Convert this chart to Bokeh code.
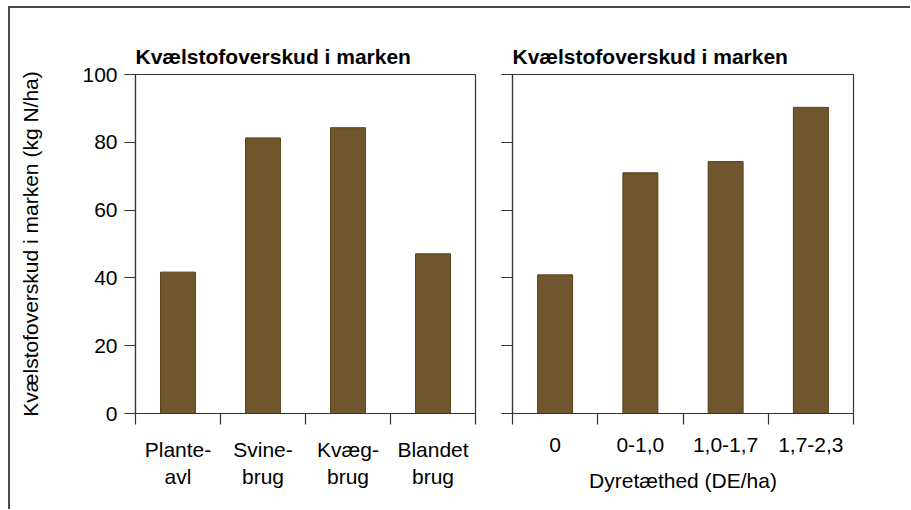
from bokeh.plotting import figure
from bokeh.models import Range1d, FixedTicker
from bokeh.layouts import row
from bokeh.embed import file_html
from bokeh.resources import INLINE

# ---- data ----
left_categories = ["Plante-\navl", "Svine-\nbrug", "Kvæg-\nbrug", "Blandet\nbrug"]
left_values = [41.7, 81.3, 84.3, 47.1]
right_categories = ["0", "0-1,0", "1,0-1,7", "1,7-2,3"]
right_values = [40.9, 71.0, 74.3, 90.3]
y_ticks = [0, 20, 40, 60, 80, 100]
panel_title = "Kvælstofoverskud i marken"
y_axis_label = "Kvælstofoverskud i marken (kg N/ha)"
right_x_label = "Dyretæthed (DE/ha)"

FONT = "Liberation Sans"
FS = "21px"
LINE = "#333333"
BAR_FILL = "#70562f"
BAR_LINE = "#5a3d12"


def panel(categories, values, show_y_labels, x_label, mbl, mbr, fw):
    n = len(categories)
    centers = [i + 0.5 for i in range(n)]
    bounds = list(range(n + 1))
    p = figure(frame_width=fw, frame_height=339,
               x_range=Range1d(0, n), y_range=Range1d(0, 100),
               output_backend="svg", toolbar_location=None,
               min_border_left=mbl, min_border_right=mbr,
               min_border_top=66, min_border_bottom=96,
               background_fill_color="white", border_fill_color="white")
    p.vbar(x=centers, top=values, width=0.41, bottom=0,
           fill_color=BAR_FILL, line_color=BAR_LINE, line_width=1)
    p.xgrid.visible = False
    p.ygrid.visible = False
    p.outline_line_color = LINE
    p.outline_line_width = 1.2
    p.outline_line_alpha = 1

    p.title.text = panel_title
    p.title.text_font = FONT
    p.title.text_font_size = FS
    p.title.text_font_style = "bold"
    p.title.text_color = "black"
    p.title.align = "left"
    p.title.standoff = 14

    xa = p.xaxis[0]
    xa.ticker = FixedTicker(ticks=centers, minor_ticks=bounds)
    xa.major_label_overrides = {c: lab for c, lab in zip(centers, categories)}
    xa.major_tick_out = 0
    xa.major_tick_in = 0
    xa.minor_tick_out = 11
    xa.minor_tick_in = 0
    xa.minor_tick_line_color = LINE
    xa.minor_tick_line_width = 1.2
    xa.axis_line_color = LINE
    xa.axis_line_width = 1.2
    xa.major_label_standoff = 13
    xa.major_label_text_font = FONT
    xa.major_label_text_font_size = FS
    xa.major_label_text_color = "black"
    if x_label:
        xa.axis_label = x_label
        xa.axis_label_text_font = FONT
        xa.axis_label_text_font_size = FS
        xa.axis_label_text_font_style = "normal"
        xa.axis_label_text_color = "black"
        xa.axis_label_standoff = 14

    ya = p.yaxis[0]
    ya.ticker = FixedTicker(ticks=y_ticks, minor_ticks=[])
    ya.major_tick_out = 11
    ya.major_tick_in = 0
    ya.minor_tick_out = 0
    ya.minor_tick_in = 0
    ya.major_tick_line_color = LINE
    ya.major_tick_line_width = 1.2
    ya.axis_line_color = LINE
    ya.axis_line_width = 1.2
    ya.major_label_standoff = 7
    ya.major_label_text_font = FONT
    ya.major_label_text_font_size = FS
    ya.major_label_text_color = "black"
    if show_y_labels:
        ya.axis_label = y_axis_label
        ya.axis_label_text_font = FONT
        ya.axis_label_text_font_size = FS
        ya.axis_label_text_font_style = "normal"
        ya.axis_label_text_color = "black"
        ya.axis_label_standoff = 37
    else:
        ya.major_label_overrides = {t: "" for t in y_ticks}
        ya.major_label_standoff = 0
    return p


p1 = panel(left_categories, left_values, True, None, 125, 10, 340)
p2 = panel(right_categories, right_values, False, right_x_label, 27, 57, 341)

layout = row(p1, p2, styles={"border-top": "2px solid #4a4a4a",
                             "border-left": "2px solid #4a4a4a",
                             "margin-top": "6px",
                             "margin-left": "8px"})

open("out.html", "w").write(file_html(layout, INLINE))
